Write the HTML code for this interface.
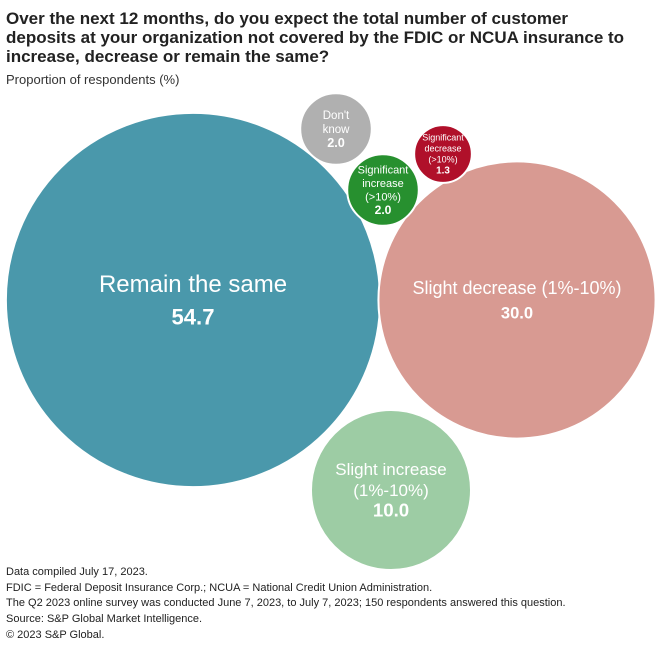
<!DOCTYPE html>
<html><head><meta charset="utf-8"><style>
body{margin:0;width:660px;height:650px;background:#fff;font-family:"Liberation Sans",sans-serif;overflow:hidden;position:relative}
.t{position:absolute;left:6px;top:9px;font-size:17px;font-weight:bold;color:#222;line-height:19px;width:660px;white-space:nowrap}
.st{position:absolute;left:6px;top:72px;font-size:13px;color:#333}
.fn{position:absolute;left:6px;top:565px;font-size:11px;color:#222;line-height:15.7px}
svg{position:absolute;left:0;top:0}
</style></head><body>
<div class="t">Over the next 12 months, do you expect the total number of customer<br>deposits at your organization not covered by the FDIC or NCUA insurance to<br>increase, decrease or remain the same?</div>
<div class="st">Proportion of respondents (%)</div>
<svg id="c" width="660" height="650"></svg>
<div class="fn">Data compiled July 17, 2023.<br>FDIC = Federal Deposit Insurance Corp.; NCUA = National Credit Union Administration.<br>The Q2 2023 online survey was conducted June 7, 2023, to July 7, 2023; 150 respondents answered this question.<br>Source: S&amp;P Global Market Intelligence.<br>© 2023 S&amp;P Global.</div>
<script>
const categories=[["Remain the same"],["Slight decrease (1%-10%)"],["Slight increase","(1%-10%)"],["Don't","know"],["Significant","increase","(>10%)"],["Significant","decrease","(>10%)"]];
const values=[54.7,30.0,10.0,2.0,2.0,1.3];
const colors=["#4a98ab","#d89a92","#9dcca4","#b0b0b0","#27902f","#b0102a"];
const layoutX=[193,517,391,336,383,443];
const layoutY=[300,300,490,129,190,154];
const fontSizes=[24,18,17,11.5,11,9];
const rScale=v=>25.3*Math.sqrt(v);
const svg=document.getElementById('c');const NS="http://www.w3.org/2000/svg";
values.forEach((v,i)=>{
 const r=rScale(v),cx=layoutX[i],cy=layoutY[i];
 const c=document.createElementNS(NS,'circle');
 
 
 c.setAttribute('cx',cx);c.setAttribute('cy',cy);c.setAttribute('r',r);c.setAttribute('fill',colors[i]);
 c.setAttribute('stroke','#fff');c.setAttribute('stroke-width','2');
 svg.appendChild(c);
 const fs=fontSizes[i];
 const lh=fs*(r>100?1.35:1.22);
 const lines=categories[i];
 const n=lines.length+1;
 const y0=cy-(n-1)*lh/2+fs*0.35;
 lines.forEach((l,j)=>{
  const t=document.createElementNS(NS,'text');
  
  
  t.setAttribute('x',cx);t.setAttribute('y',y0+j*lh);t.setAttribute('text-anchor','middle');
  t.setAttribute('fill','#fff');t.setAttribute('font-size',fs);t.textContent=l;svg.appendChild(t);
 });
 const t=document.createElementNS(NS,'text');
 
 
 t.setAttribute('x',cx);t.setAttribute('y',y0+lines.length*lh);t.setAttribute('text-anchor','middle');
 t.setAttribute('fill','#fff');t.setAttribute('font-weight','bold');t.setAttribute('font-size',r>100?fs*0.92:fs*1.1);
 t.textContent=v.toFixed(1);svg.appendChild(t);
});
</script>
</body></html>
